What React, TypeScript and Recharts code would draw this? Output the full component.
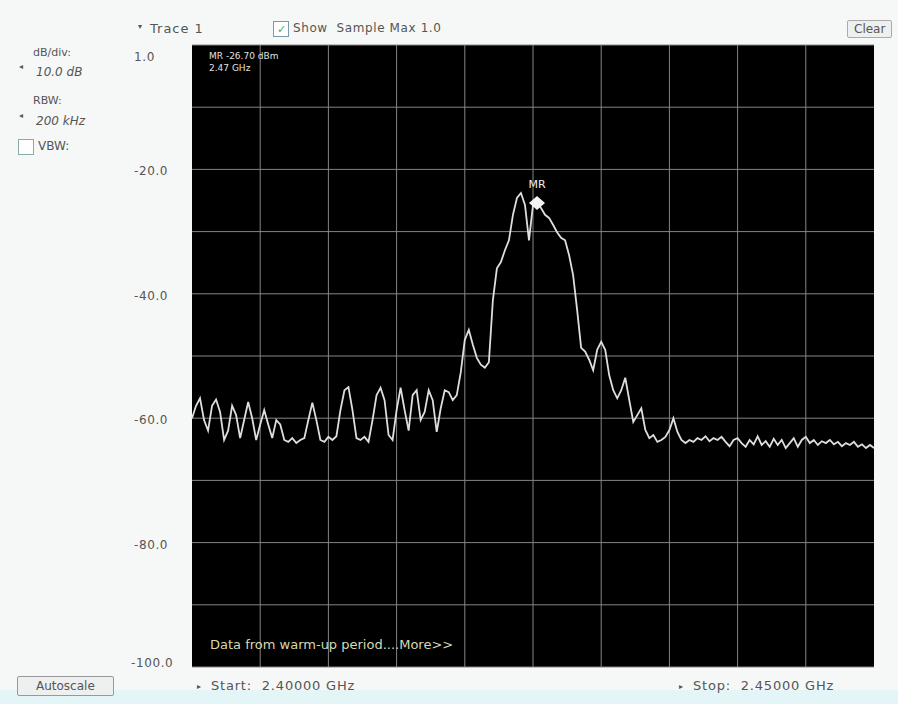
import React from 'react';
import { LineChart, Line, XAxis, YAxis, CartesianGrid, ReferenceDot } from 'recharts';

// trace 1, sample max, 171 sweep points from 2.40000 to 2.45000 GHz (dBm)
const traceLevels = [
  -60, -58, -56.8, -60.3, -62, -58, -57, -59, -63.5, -62,
  -58, -59.5, -63.2, -60.3, -57.4, -60, -63.5, -61, -58.7, -61,
  -63.2, -60.3, -61, -63.5, -63.8, -63.2, -64, -63.5, -63.2, -60.3,
  -57.5, -60.3, -63.5, -63.8, -63, -63.5, -62.9, -58.7, -55.5, -55,
  -58.7, -63.2, -63.5, -63, -63.8, -60.3, -56.3, -55.1, -57.1, -62.7,
  -63.5, -58.7, -55.1, -58.7, -62, -56.3, -55.5, -60.3, -59, -55.5,
  -57.1, -62.2, -58.4, -55.5, -55.8, -57.1, -56.3, -52.6, -47.4, -45.8,
  -48.2, -50.3, -51.4, -51.9, -51, -41, -35.9, -34.9, -33, -31.4,
  -27.3, -24.6, -23.8, -25.7, -31.4, -25.7, -25.4, -26.2, -27.3, -27.8,
  -28.9, -30.1, -31, -31.4, -33.8, -37, -42.6, -48.7, -49.3, -50.6,
  -52.3, -49, -47.7, -49, -53.1, -55.5, -56.8, -55.5, -53.5, -57.1,
  -60.6, -59.5, -58.4, -61.9, -63.2, -62.7, -63.8, -63.5, -63, -61.9,
  -60, -62.2, -63.5, -64, -63.5, -63.8, -63.2, -63.5, -62.9, -63.7,
  -63.2, -63.5, -63, -63.8, -64.5, -63.5, -63.2, -64, -64.6, -63.5,
  -64.2, -62.9, -64.3, -63.7, -64.6, -63.3, -64.3, -63.5, -64.8, -64,
  -63.2, -64.6, -63.5, -63, -64, -63.5, -64.3, -63.7, -64, -63.5,
  -64.2, -63.8, -64.5, -64, -64.3, -63.8, -64.6, -64.2, -64.8, -64.3,
  -64.8,
];

const yTicks = [0, -10, -20, -30, -40, -50, -60, -70, -80, -90, -100];
const yTickLabels: Record<number, string> = { 0: '1.0', [-20]: '-20.0', [-40]: '-40.0', [-60]: '-60.0', [-80]: '-80.0', [-100]: '-100.0' };
const xDivisions = 10;
const lastIndex = traceLevels.length - 1;

const markerIndex = 86;
const markerLevel = -25.4;

const data = traceLevels.map((level, i) => ({ idx: i, level }));

const font = '"DejaVu Sans", Verdana, sans-serif';

const YTick = (props: any) => {
  const { y, payload } = props;
  const label = yTickLabels[payload.value];
  if (!label) return null;
  const dy = payload.value === 0 ? 16 : payload.value === -100 ? 0 : 6;
  const x0 = payload.value === -100 ? 131 : 134;
  return (
    <text x={x0} y={y + dy} textAnchor="start" fontSize={12} letterSpacing={0.6} fill="#555" fontFamily={font}>
      {label}
    </text>
  );
};

const Diamond = (props: any) => {
  const { cx, cy } = props;
  return <polygon points={`${cx},${cy - 7} ${cx + 8},${cy} ${cx},${cy + 7} ${cx - 8},${cy}`} fill="#f4f4f4" />;
};

const txt = (left: number, top: number, extra: React.CSSProperties = {}): React.CSSProperties => ({
  position: 'absolute', left, top, fontSize: 11, color: '#555', fontFamily: font, whiteSpace: 'nowrap', ...extra,
});

export default function App() {
  return (
    <div style={{ position: 'absolute', left: 0, top: 0, width: 898, height: 704, background: '#f5f8f6', overflow: 'hidden' }}>
      <div style={{ position: 'absolute', left: 0, top: 690, width: 898, height: 14, background: '#e4f5f7' }} />
      <LineChart width={898} height={704} data={data} margin={{ top: 45, right: 24, bottom: 37, left: 132 }}>
        <CartesianGrid
          stroke="#858585"
          strokeWidth={1}
          fill="#000"
          verticalCoordinatesGenerator={({ offset }: any) =>
            Array.from({ length: xDivisions - 1 }, (_, k) => offset.left + ((k + 1) / xDivisions) * offset.width)
          }
        />
        <XAxis dataKey="idx" type="number" domain={[0, lastIndex]} tick={false} axisLine={false} tickLine={false} height={0} />
        <YAxis type="number" domain={[-100, 0]} ticks={yTicks} width={60} axisLine={false} tickLine={false} tick={<YTick />} interval={0} />
        <Line type="linear" dataKey="level" stroke="#dedede" strokeWidth={1.8} dot={false} isAnimationActive={false} />
        <ReferenceDot x={markerIndex} y={markerLevel} r={7} shape={<Diamond />}
          label={{ value: 'MR', position: 'top', fill: '#f0f0f0', fontSize: 11, fontFamily: font, offset: 8 }} />
      </LineChart>

      {/* header */}
      <div style={txt(138, 22, { fontSize: 8 })}>▾</div>
      <div style={txt(150, 21, { fontSize: 13, letterSpacing: 1 })}>Trace 1</div>
      <div style={{ position: 'absolute', left: 273, top: 21, width: 14, height: 14, border: '1px solid #7a9aa8', background: '#fff', fontSize: 11, lineHeight: '14px', textAlign: 'center', color: '#4a7' }}>✓</div>
      <div style={txt(293, 21, { fontSize: 12, letterSpacing: 0.6 })}>Show&nbsp;&nbsp;Sample Max 1.0</div>
      <div style={{ ...txt(847, 20, { fontSize: 12 }), border: '1px solid #aaa', background: '#eef0ef', padding: '1px 6px', borderRadius: 2 }}>Clear</div>

      {/* left panel */}
      <div style={txt(33, 46)}>dB/div:</div>
      <div style={txt(19, 62, { fontSize: 8 })}>◂</div>
      <div style={txt(36, 65, { fontStyle: 'italic', fontSize: 12 })}>10.0 dB</div>
      <div style={txt(33, 94)}>RBW:</div>
      <div style={txt(19, 111, { fontSize: 8 })}>◂</div>
      <div style={txt(36, 114, { fontStyle: 'italic', fontSize: 12 })}>200 kHz</div>
      <div style={{ position: 'absolute', left: 18, top: 139, width: 14, height: 14, border: '1px solid #8aa', background: '#fff' }} />
      <div style={txt(38, 139, { fontSize: 12 })}>VBW:</div>

      {/* in-plot annotations */}
      <div style={txt(209, 51, { color: '#e0e0e0', fontSize: 9 })}>MR&nbsp;-26.70 dBm</div>
      <div style={txt(209, 63, { color: '#e0e0e0', fontSize: 9 })}>2.47 GHz</div>
      <div style={txt(210, 637, { color: '#d8d8b0', fontSize: 13 })}>Data from warm-up period....More&gt;&gt;</div>

      {/* footer */}
      <div style={{ ...txt(17, 676, { fontSize: 12 }), border: '1px solid #999', background: '#eef0ef', padding: '2px 18px', borderRadius: 2 }}>Autoscale</div>
      <div style={txt(197, 682, { fontSize: 8 })}>▸</div>
      <div style={txt(211, 678, { fontSize: 13, letterSpacing: 0.8 })}>Start:&nbsp;&nbsp;2.40000 GHz</div>
      <div style={txt(679, 682, { fontSize: 8 })}>▸</div>
      <div style={txt(693, 678, { fontSize: 13, letterSpacing: 0.8 })}>Stop:&nbsp;&nbsp;2.45000 GHz</div>
    </div>
  );
}
